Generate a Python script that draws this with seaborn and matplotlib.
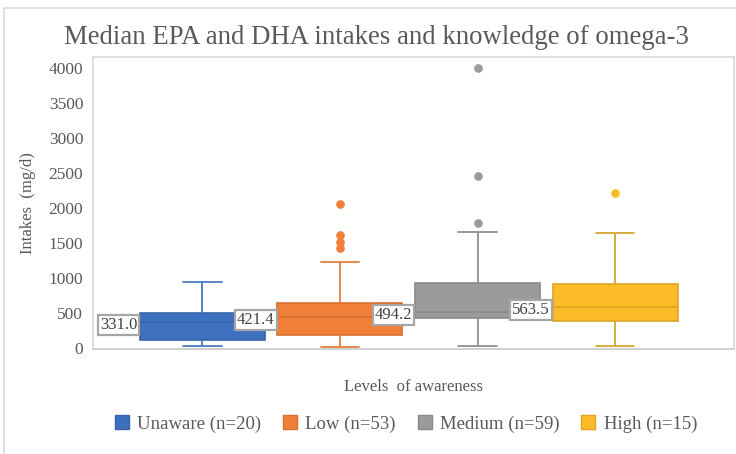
import numpy as np
import pandas as pd
import matplotlib
matplotlib.use("Agg")
import matplotlib.pyplot as plt
from matplotlib.patches import Patch, Rectangle
import seaborn as sns

# ---- data (mg/d) ----
levels = ["Unaware (n=20)", "Low (n=53)", "Medium (n=59)", "High (n=15)"]
whisker_low = [36, 26, 40, 40]
q1 = [121, 188, 430, 396]
median = [378, 444, 520, 591]
q3 = [506, 652, 929, 919]
whisker_high = [947, 1237, 1664, 1650]
outliers = [[], [2060, 1620, 1510, 1430], [4000, 2462, 1783], [2219]]
median_labels = ["331.0", "421.4", "494.2", "563.5"]

fills = ["#3D70BE", "#EF7F39", "#999B9C", "#FBBC28"]
edges = ["#3864AA", "#D5702F", "#87898A", "#DDA522"]
whisk = ["#4A79C2", "#E2803E", "#8E9091", "#DAA531"]

# observation table built from the summary values so that seaborn's
# quartiles / whiskers reproduce the box statistics above
rows = []
for i, lev in enumerate(levels):
    vals = ([whisker_low[i]] + [q1[i]] * 10 + [median[i]] * 10 +
            [q3[i]] * 10 + [whisker_high[i]] + list(outliers[i]))
    rows += [(lev, v) for v in vals]
df = pd.DataFrame(rows, columns=["Level", "Intake"])

sns.set_theme(style="white")
plt.rcParams["font.family"] = ["Liberation Serif", "DejaVu Serif"]
txt = "#595959"

fig = plt.figure(figsize=(7.36, 4.54), dpi=100)
ax = fig.add_axes([93 / 736, 1 - 348.5 / 454, (734 - 93) / 736, (348.5 - 57) / 454])

W = 0.908
sns.boxplot(data=df, x="Level", y="Intake", hue="Level", order=levels,
            hue_order=levels, palette=fills, width=W, dodge=False,
            linewidth=1.2, legend=False, ax=ax, saturation=1,
            capwidths=0.28,
            flierprops=dict(marker="o", markersize=5.2))

# colour each box's artists like the reference
def grp(xs):
    return int(np.clip(np.round(np.mean(xs)), 0, 3))

for p in ax.patches:
    verts = p.get_path().vertices
    g = grp(verts[:, 0])
    p.set_facecolor(fills[g])
    p.set_edgecolor(edges[g])
    p.set_linewidth(1.2)
for ln in ax.lines:
    xd = np.asarray(ln.get_xdata(), dtype=float)
    if xd.size == 0:
        continue
    g = grp(xd)
    ln.set_color(whisk[g])
    ln.set_markerfacecolor(fills[g])
    ln.set_markeredgecolor(fills[g])
    ln.set_linewidth(1.3)
    yd = np.asarray(ln.get_ydata(), dtype=float)
    if yd.size == 2 and np.allclose(yd, median[g]):
        ln.set_color(edges[g])
        ln.set_linewidth(1.2)

ax.set_xlim(-0.795, 3.864)
ax.set_ylim(0, 4150)
ax.set_yticks(np.arange(0, 4001, 500))
ax.set_yticklabels([str(v) for v in range(0, 4001, 500)], fontsize=12.5, color=txt)
ax.set_xticks([])
ax.set_xlabel("Levels  of awareness", fontsize=12, color=txt, labelpad=22)
ax.set_ylabel("Intakes  (mg/d)", fontsize=12, color=txt, labelpad=9)
ax.tick_params(axis="y", length=0, pad=7)
for s in ax.spines.values():
    s.set_color("#D9D9D9")
    s.set_linewidth(1.2)
ax.spines["bottom"].set_color("#C8C8C8")

# median labels (right-aligned at each box's left edge)
for i in range(4):
    ax.annotate(median_labels[i], xy=(i - W / 2, median[i]), xytext=(-2, -2),
                textcoords="offset points", ha="right", va="center",
                fontsize=12, color="#404040",
                bbox=dict(boxstyle="square,pad=0.12", fc="white",
                          ec="#A6A6A6", lw=1.6), zorder=10)

fig.text(0.511, 1 - 37 / 454, "Median EPA and DHA intakes and knowledge of omega-3",
         ha="center", va="center", fontsize=19.3, color=txt)

handles = [Patch(facecolor=fills[i], edgecolor=edges[i], label=levels[i]) for i in range(4)]
leg = fig.legend(handles=handles, loc="center", bbox_to_anchor=(406 / 736, 1 - 424 / 454),
                 ncol=4, frameon=False, fontsize=13.5, handlelength=0.75,
                 handleheight=0.75, columnspacing=1.15, handletextpad=0.45)
for t in leg.get_texts():
    t.set_color(txt)

fig.patches.append(Rectangle((4 / 736, -0.05), 1.2, 1.05 - 8 / 454 + 0.0,
                             transform=fig.transFigure, fill=False,
                             ec="#D9D9D9", lw=1.2))

fig.savefig("out.png", dpi=100)
